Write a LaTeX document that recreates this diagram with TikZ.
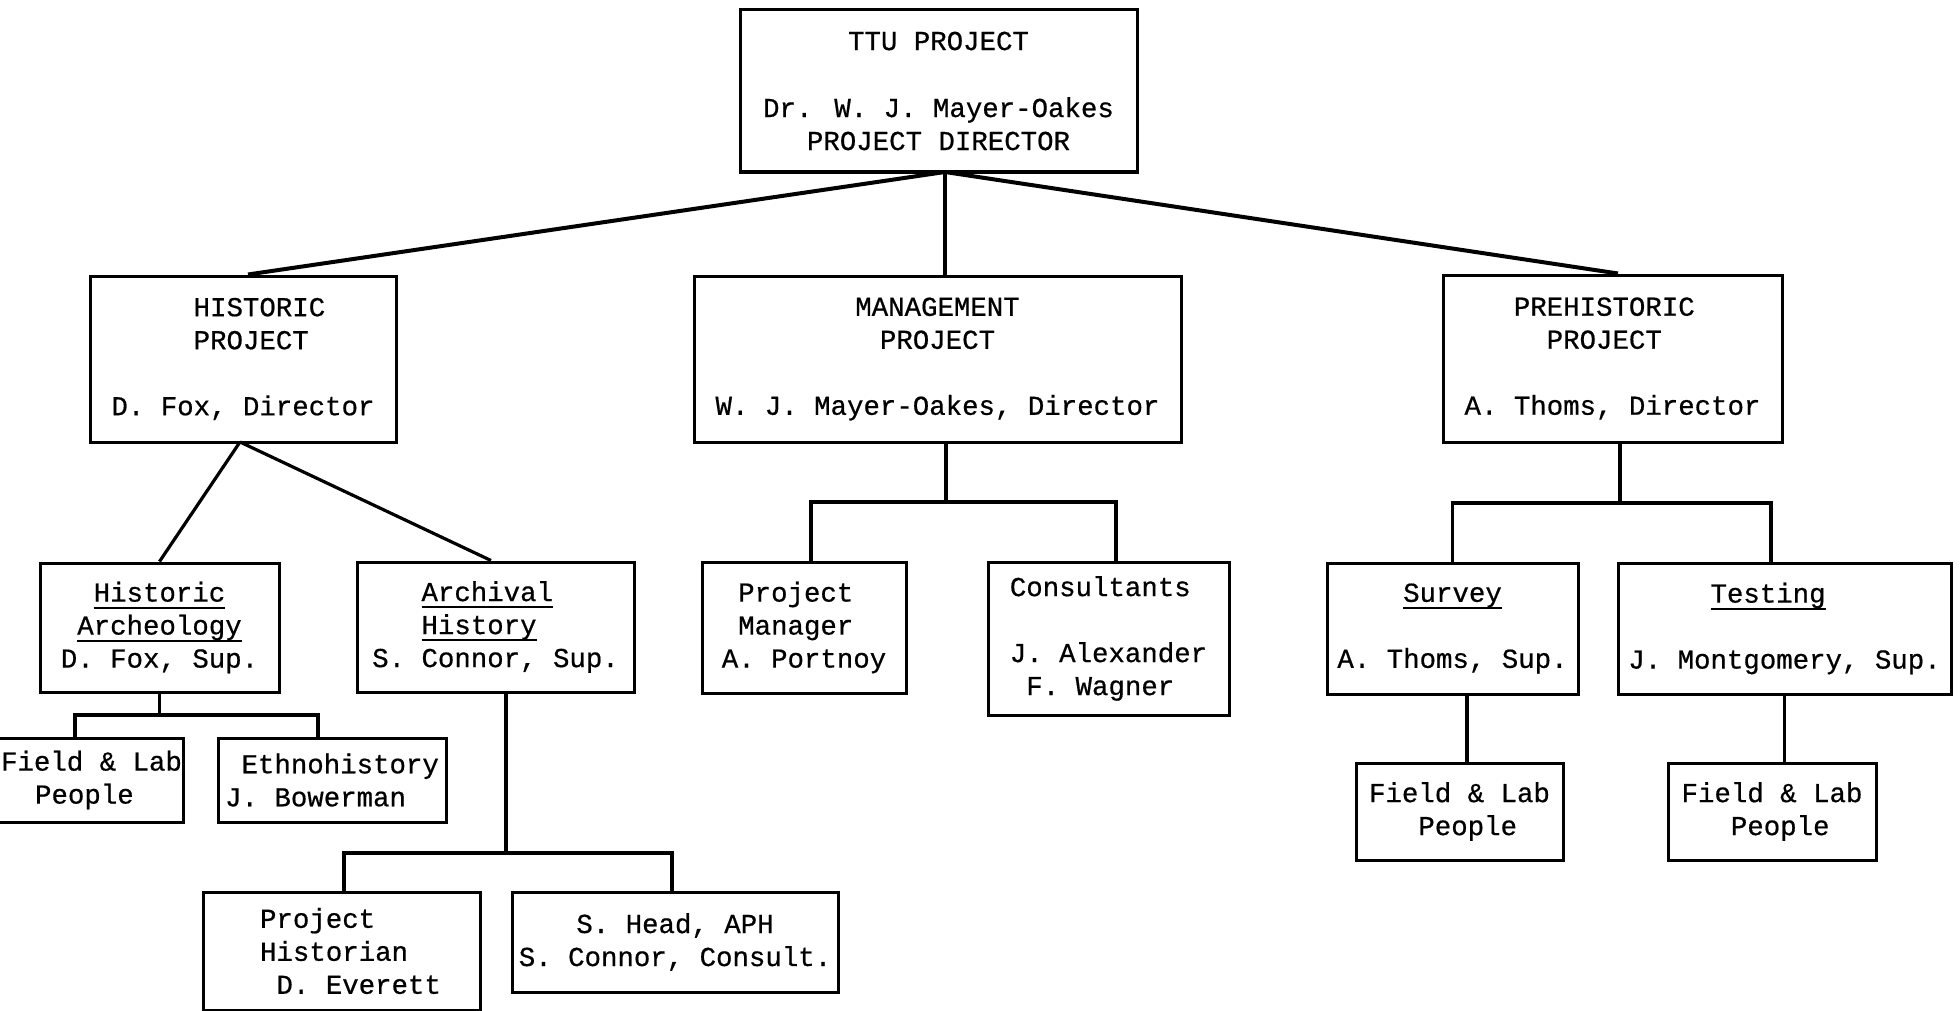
\documentclass[tikz,border=0pt]{standalone}
\usepackage{fontspec}
\setmainfont{Liberation Mono}[FakeBold=0.6]
\usetikzlibrary{calc}
\newlength{\tcwlen}
\setlength{\tcwlen}{8.22pt}
\newcommand{\tcw}[1]{\hspace*{#1\tcwlen}}
\newcommand{\myul}[1]{\setbox0\hbox{#1}\rlap{\rule[-3.5pt]{\wd0}{1pt}}\box0}
\tikzset{
  box/.style={draw, line width=1.5pt, inner sep=0pt, align=center,
    font=\fontsize{13.7}{16.5}\selectfont},
  lbox/.style={box, align=left},
  conn/.style={line width=1.6pt},
  topconn/.style={line width=2pt}
}
\begin{document}
\begin{tikzpicture}[x=0.5pt,y=-0.5pt]
\useasboundingbox (0,0) rectangle (1960,1011);

% level 0
\node[box, minimum width=198.5pt, minimum height=81pt] (ttu) at (938.5,91)
  {TTU PROJECT\\[17pt]Dr. W. J. Mayer-Oakes\\PROJECT DIRECTOR};

% level 1
\node[lbox, minimum width=153pt, minimum height=83pt] (hist) at (243,359)
  {\tcw{5}HISTORIC\\\tcw{5}PROJECT\\[16.5pt]D. Fox, Director};
\node[box, minimum width=243.5pt, minimum height=83pt] (mgmt) at (937.5,359)
  {MANAGEMENT\\PROJECT\\[16.5pt]W. J. Mayer-Oakes, Director};
\node[lbox, minimum width=169.5pt, minimum height=83.5pt] (pre) at (1612.5,358.5)
  {\tcw{3}PREHISTORIC\\\tcw{5}PROJECT\\[16.5pt]A. Thoms, Director};

% level 2
\node[box, minimum width=119.5pt, minimum height=64.5pt] (harch) at (159.5,627.5)
  {\myul{Historic}\\\myul{Archeology}\\D. Fox, Sup.};
\node[lbox, minimum width=138.5pt, minimum height=65pt] (arch) at (495.5,627)
  {\tcw{3}\myul{Archival}\\\tcw{3}\myul{History}\\S. Connor, Sup.};
\node[lbox, minimum width=102pt, minimum height=65.5pt] (pm) at (804,627.5)
  {\tcw{1}Project\\\tcw{1}Manager\\A. Portnoy};
\node[lbox, minimum width=120.5pt, minimum height=76.5pt] (cons) at (1108.5,638.5)
  {Consultants\\[16.5pt]J. Alexander\\\tcw{1}F. Wagner};
\node[box, minimum width=125.5pt, minimum height=65.5pt] (survey) at (1452.5,628.5)
  {\myul{Survey}\\[16.5pt]A. Thoms, Sup.};
\node[lbox, minimum width=166.5pt, minimum height=65.5pt] (testing) at (1784.5,628.5)
  {\tcw{5}\myul{Testing}\\[16.5pt]J. Montgomery, Sup.};

% level 3
\node[lbox, minimum width=97.5pt, minimum height=42pt] (flh) at (85.5,780)
  {\hspace*{6pt}Field \& Lab\\\hspace*{23pt}People};
\node[lbox, minimum width=114pt, minimum height=42pt] (ethno) at (332,780)
  {\tcw{1}Ethnohistory\\J. Bowerman};
\node[lbox, minimum width=103.5pt, minimum height=48.5pt] (fls) at (1459.5,811.5)
  {Field \& Lab\\\tcw{3}People};
\node[lbox, minimum width=104pt, minimum height=48.5pt] (flt) at (1772,811.5)
  {Field \& Lab\\\tcw{3}People};

% level 4
\node[lbox, minimum width=138.5pt, minimum height=59pt] (phist) at (341.5,951)
  {\hspace*{9pt}Project\\\hspace*{9pt}Historian\\\hspace*{9pt}\tcw{1}D. Everett};
\node[box, minimum width=163pt, minimum height=50pt] (shead) at (675,942)
  {S. Head, APH\\S. Connor, Consult.};

% connectors from the top box
\coordinate (tj) at (945,172);
\draw[topconn] (tj) -- ($(hist.north)+(5,0)$);
\draw[conn] (tj) -- (tj |- mgmt.north);
\draw[topconn] (tj) -- ($(pre.north)+(5.5,0)$);

% historic project
\coordinate (hj) at (240,442);
\draw[conn] (hj) -- (harch.north);
\draw[conn] (hj) -- ($(arch.north)+(-4.5,0)$);

\coordinate (hbar) at (159.5,715);
\draw[conn] (harch.south) -- (hbar);
\draw[conn] ($(flh.north)+(-10.5,0)$) |- (hbar) -| ($(ethno.north)+(-14,0)$);

\coordinate (abar) at (506,853);
\draw[conn] ($(arch.south)+(10.5,0)$) -- (abar);
\draw[conn] ($(phist.north)+(2.5,0)$) |- (abar) -| ($(shead.north)+(-3,0)$);

% management project
\coordinate (mbar) at (946,502);
\draw[conn] (mbar |- mgmt.south) -- (mbar);
\draw[conn] ($(pm.north)+(7,0)$) |- (mbar) -| ($(cons.north)+(7.5,0)$);

% prehistoric project
\coordinate (pbar) at (1620,503);
\draw[conn] (pbar |- pre.south) -- (pbar);
\draw[conn] (survey.north) |- (pbar) -| ($(testing.north)+(-13.5,0)$);
\coordinate (sx) at (1467,763);
\draw[conn] (sx |- survey.south) -- (sx);
\draw[conn] (testing.south) -- (testing.south |- flt.north);
\end{tikzpicture}
\end{document}
